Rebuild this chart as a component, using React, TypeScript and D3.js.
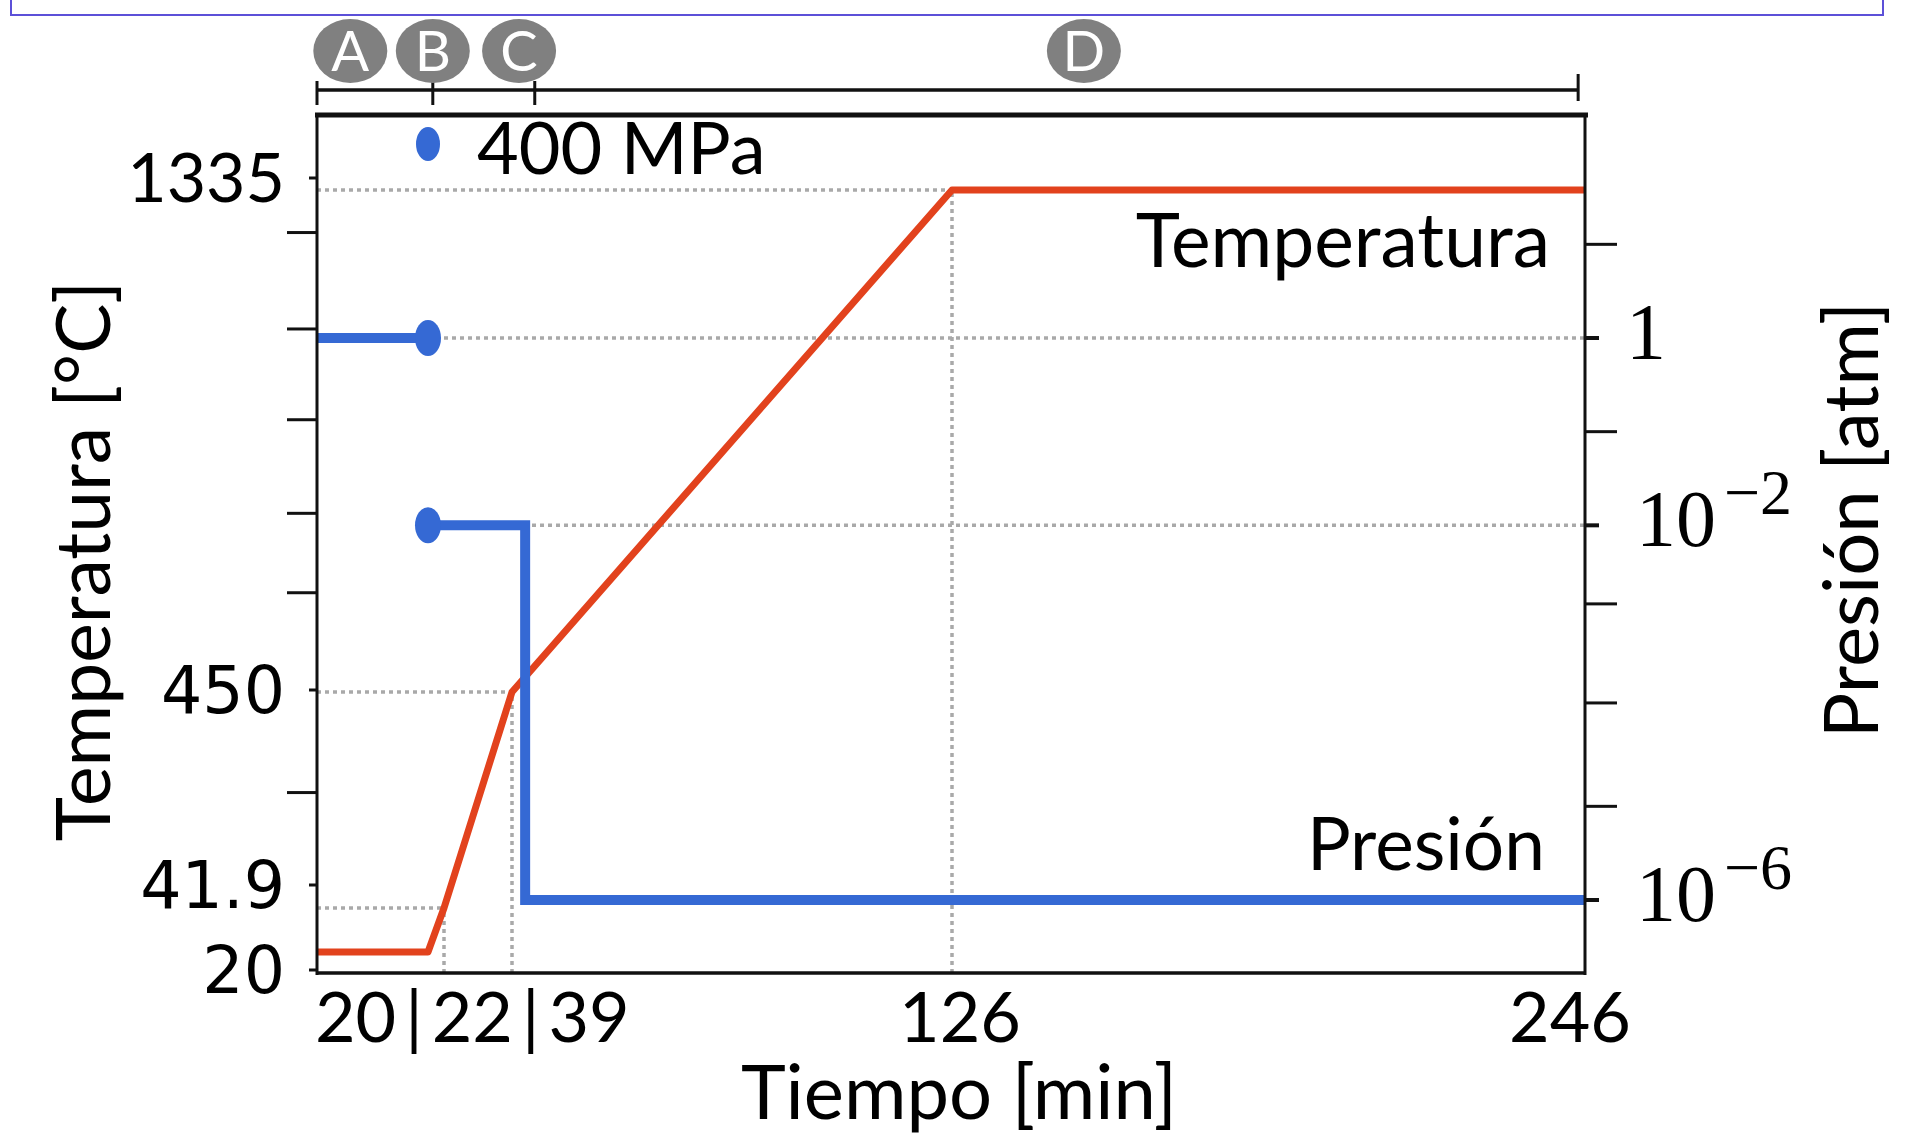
import React from "react";
import * as d3 from "d3";

// time axis (min) — the slide's axis is not evenly spaced, so breakpoints
const timeBreaks = [0, 20, 22, 39, 126, 246];
const earlyTimeLabels = ["20", "22", "39"];
const lateTimeTicks = [126, 246];

// temperature axis (°C)
const tempBreaks = [20, 41.9, 450, 1335];
const tempTickLabels = ["20", "41.9", "450", "1335"];
const tempMinorTicks = [1260, 1090, 930, 765, 625, 260];

// pressure axis (atm, log)
const pressureTicks = [1, 1e-2, 1e-6];
const pressureTickExp = ["", "−2", "−6"];
const pressureMinorTicks = [10, 0.1, 1.45e-3, 1.27e-4, 1e-5];

// series: [time, value]
const tempSeries: [number, number][] = [[0, 20], [20, 20], [22, 41.9], [39, 450], [126, 1335], [246, 1335]];
const pressureHold: [number, number][] = [[0, 1], [20, 1]];
const pressureVacuum: [number, number][] = [[20, 1e-2], [41.6, 1e-2], [41.6, 1e-6], [246, 1e-6]];
const loadTime = 20;
const loadLabel = "400 MPa";

// process stages on top
const phases = ["A", "B", "C", "D"];
const phaseLabelTimes = [6, 20.6, 40.4, 151];
const phaseBounds = [0, 20.6, 43.5, 244.7];

// dotted guides
const tempGuides: [number, number][] = [[1335, 126], [450, 39], [41.9, 22]]; // [temp, until time]
const timeGuides: [number, number][] = [[126, 1335], [39, 450], [22, 41.9]]; // [time, up to temp]
const pressureGuides = [1, 1e-2];

const W = 1907, H = 1134;
const left = 317, right = 1585, top = 115, bottom = 973;
const RED = "#e2421d", BLUE = "#3569d4", GRID = "#a9a9a9";
const SANS = "Lato, 'Open Sans', sans-serif";
const tempLabelNudge = [18, -23, -2, -12];

export default function App() {
  const x = d3.scaleLinear().domain(timeBreaks).range([left, 428, 444, 512, 952, right]);
  const yT = d3.scaleLinear().domain(tempBreaks).range([952, 908, 692, 190]);
  const yP = d3.scaleLog().domain([1e-6, 1]).range([900, 338]);

  const tempLine = d3.line<[number, number]>().x(d => x(d[0])).y(d => yT(d[1]));
  const presLine = d3.line<[number, number]>().x(d => x(d[0])).y(d => yP(d[1]));

  const dash = { stroke: GRID, strokeWidth: 3.5, strokeDasharray: "4 4", fill: "none" };

  return (
    <svg width={W} height={H} style={{ position: "absolute", left: 0, top: 0, background: "#fff" }}>
      {/* slide box on top */}
      <rect x={11} y={-10} width={1872} height={25} fill="none" stroke="#5c50d8" strokeWidth={2} />

      {/* stages bar */}
      <line x1={x(phaseBounds[0])} x2={x(phaseBounds[phaseBounds.length - 1])} y1={90} y2={90} stroke="#111" strokeWidth={3.5} />
      {phaseBounds.map((t, i) => (
        <line key={"pb" + i} x1={x(t)} x2={x(t)} y1={i === phaseBounds.length - 1 ? 74 : 81} y2={i === phaseBounds.length - 1 ? 101 : 105} stroke="#111" strokeWidth={3} />
      ))}
      {phases.map((p, i) => (
        <g key={p}>
          <ellipse cx={x(phaseLabelTimes[i])} cy={51} rx={37} ry={32} fill="#808080" />
          <text x={x(phaseLabelTimes[i])} y={71} textAnchor="middle" fill="#fff" fontFamily={SANS} fontSize={56}>{p}</text>
        </g>
      ))}

      {/* dotted guides */}
      {tempGuides.map(([v, t], i) => (
        <line key={"tg" + i} x1={left} x2={x(t)} y1={yT(v)} y2={yT(v)} style={dash} />
      ))}
      {timeGuides.map(([t, v], i) => (
        <line key={"xg" + i} x1={x(t)} x2={x(t)} y1={bottom} y2={yT(v)} style={dash} />
      ))}
      {pressureGuides.map((p, i) => (
        <line key={"pg" + i} x1={x(loadTime)} x2={right} y1={yP(p)} y2={yP(p)} style={dash} />
      ))}

      {/* series */}
      <path d={tempLine(tempSeries) || ""} fill="none" stroke={RED} strokeWidth={7} strokeLinejoin="round" />
      <path d={presLine(pressureHold) || ""} fill="none" stroke={BLUE} strokeWidth={10} />
      <path d={presLine(pressureVacuum) || ""} fill="none" stroke={BLUE} strokeWidth={10} strokeLinejoin="miter" />
      <ellipse cx={x(loadTime)} cy={yP(1)} rx={13} ry={18} fill={BLUE} />
      <ellipse cx={x(loadTime)} cy={yP(1e-2)} rx={13} ry={18} fill={BLUE} />

      {/* load annotation */}
      <ellipse cx={x(loadTime)} cy={144} rx={12} ry={17} fill={BLUE} />
      <text x={477} y={174} fontFamily={SANS} fontSize={72} fill="#000">{loadLabel}</text>

      {/* frame */}
      <line x1={left - 2} x2={right + 3} y1={top} y2={top} stroke="#111" strokeWidth={5} />
      <line x1={left} x2={left} y1={top} y2={bottom + 2} stroke="#111" strokeWidth={3} />
      <line x1={right} x2={right} y1={top} y2={bottom + 2} stroke="#111" strokeWidth={3} />
      <line x1={left} x2={right + 1} y1={bottom} y2={bottom} stroke="#111" strokeWidth={3.5} />

      {/* left axis */}
      {tempMinorTicks.map((v, i) => (
        <line key={"tm" + i} x1={287} x2={left} y1={yT(v)} y2={yT(v)} stroke="#111" strokeWidth={3} />
      ))}
      {tempBreaks.map((v, i) => {
        const y = yT(v) + tempLabelNudge[i];
        const isCal = tempTickLabels[i] === "1335";
        return (
          <g key={"tl" + i}>
            <line x1={309} x2={left} y1={y} y2={y} stroke="#111" strokeWidth={3} />
            <text x={285} y={y} dy="0.36em" textAnchor="end" fill="#000"
              fontFamily={isCal ? SANS : "'DejaVu Sans', Verdana, sans-serif"} fontSize={isCal ? 68 : 65}>
              {tempTickLabels[i]}
            </text>
          </g>
        );
      })}
      <text transform="translate(110,561) rotate(-90)" textAnchor="middle" fontFamily={SANS} fontSize={75} fill="#000">Temperatura [°C]</text>

      {/* right axis */}
      {pressureMinorTicks.map((v, i) => (
        <line key={"pm" + i} x1={right} x2={1617} y1={yP(v)} y2={yP(v)} stroke="#111" strokeWidth={3} />
      ))}
      {pressureTicks.map((v, i) => (
        <g key={"pt" + i}>
          <line x1={right} x2={1599} y1={yP(v)} y2={yP(v)} stroke="#111" strokeWidth={4} />
          <text x={i === 0 ? 1626 : 1636} y={yP(v) + 21} fontFamily="'Liberation Serif', 'DejaVu Serif', serif" fontSize={80} fill="#000">
            {i === 0 ? "1" : "10"}
            {pressureTickExp[i] && (
              <tspan dx={8} dy={-32} fontSize={64}>{pressureTickExp[i]}</tspan>
            )}
          </text>
        </g>
      ))}
      <text transform="translate(1878,520) rotate(-90)" textAnchor="middle" fontFamily={SANS} fontSize={76} fill="#000">Presión [atm]</text>

      {/* bottom axis */}
      <text x={x(0) - 2} y={1042} fontFamily={SANS} fontSize={70} fill="#000">
        {earlyTimeLabels.map((l, i) => (
          <React.Fragment key={l}>
            {i > 0 && <tspan dx={9}>|</tspan>}
            <tspan dx={i > 0 ? 9 : 0}>{l}</tspan>
          </React.Fragment>
        ))}
      </text>
      {lateTimeTicks.map((t, i) => (
        <text key={"xt" + t} x={x(t) + (i === 0 ? 8 : -15)} y={1042} textAnchor="middle" fontFamily={SANS} fontSize={70} fill="#000">{t}</text>
      ))}
      <text x={959} y={1119} textAnchor="middle" fontFamily={SANS} fontSize={76} fill="#000">Tiempo [min]</text>

      {/* series names */}
      <text x={1550} y={267} textAnchor="end" fontFamily={SANS} fontSize={75} fill="#000">Temperatura</text>
      <text x={1545} y={870} textAnchor="end" fontFamily={SANS} fontSize={73} fill="#000">Presión</text>
    </svg>
  );
}
